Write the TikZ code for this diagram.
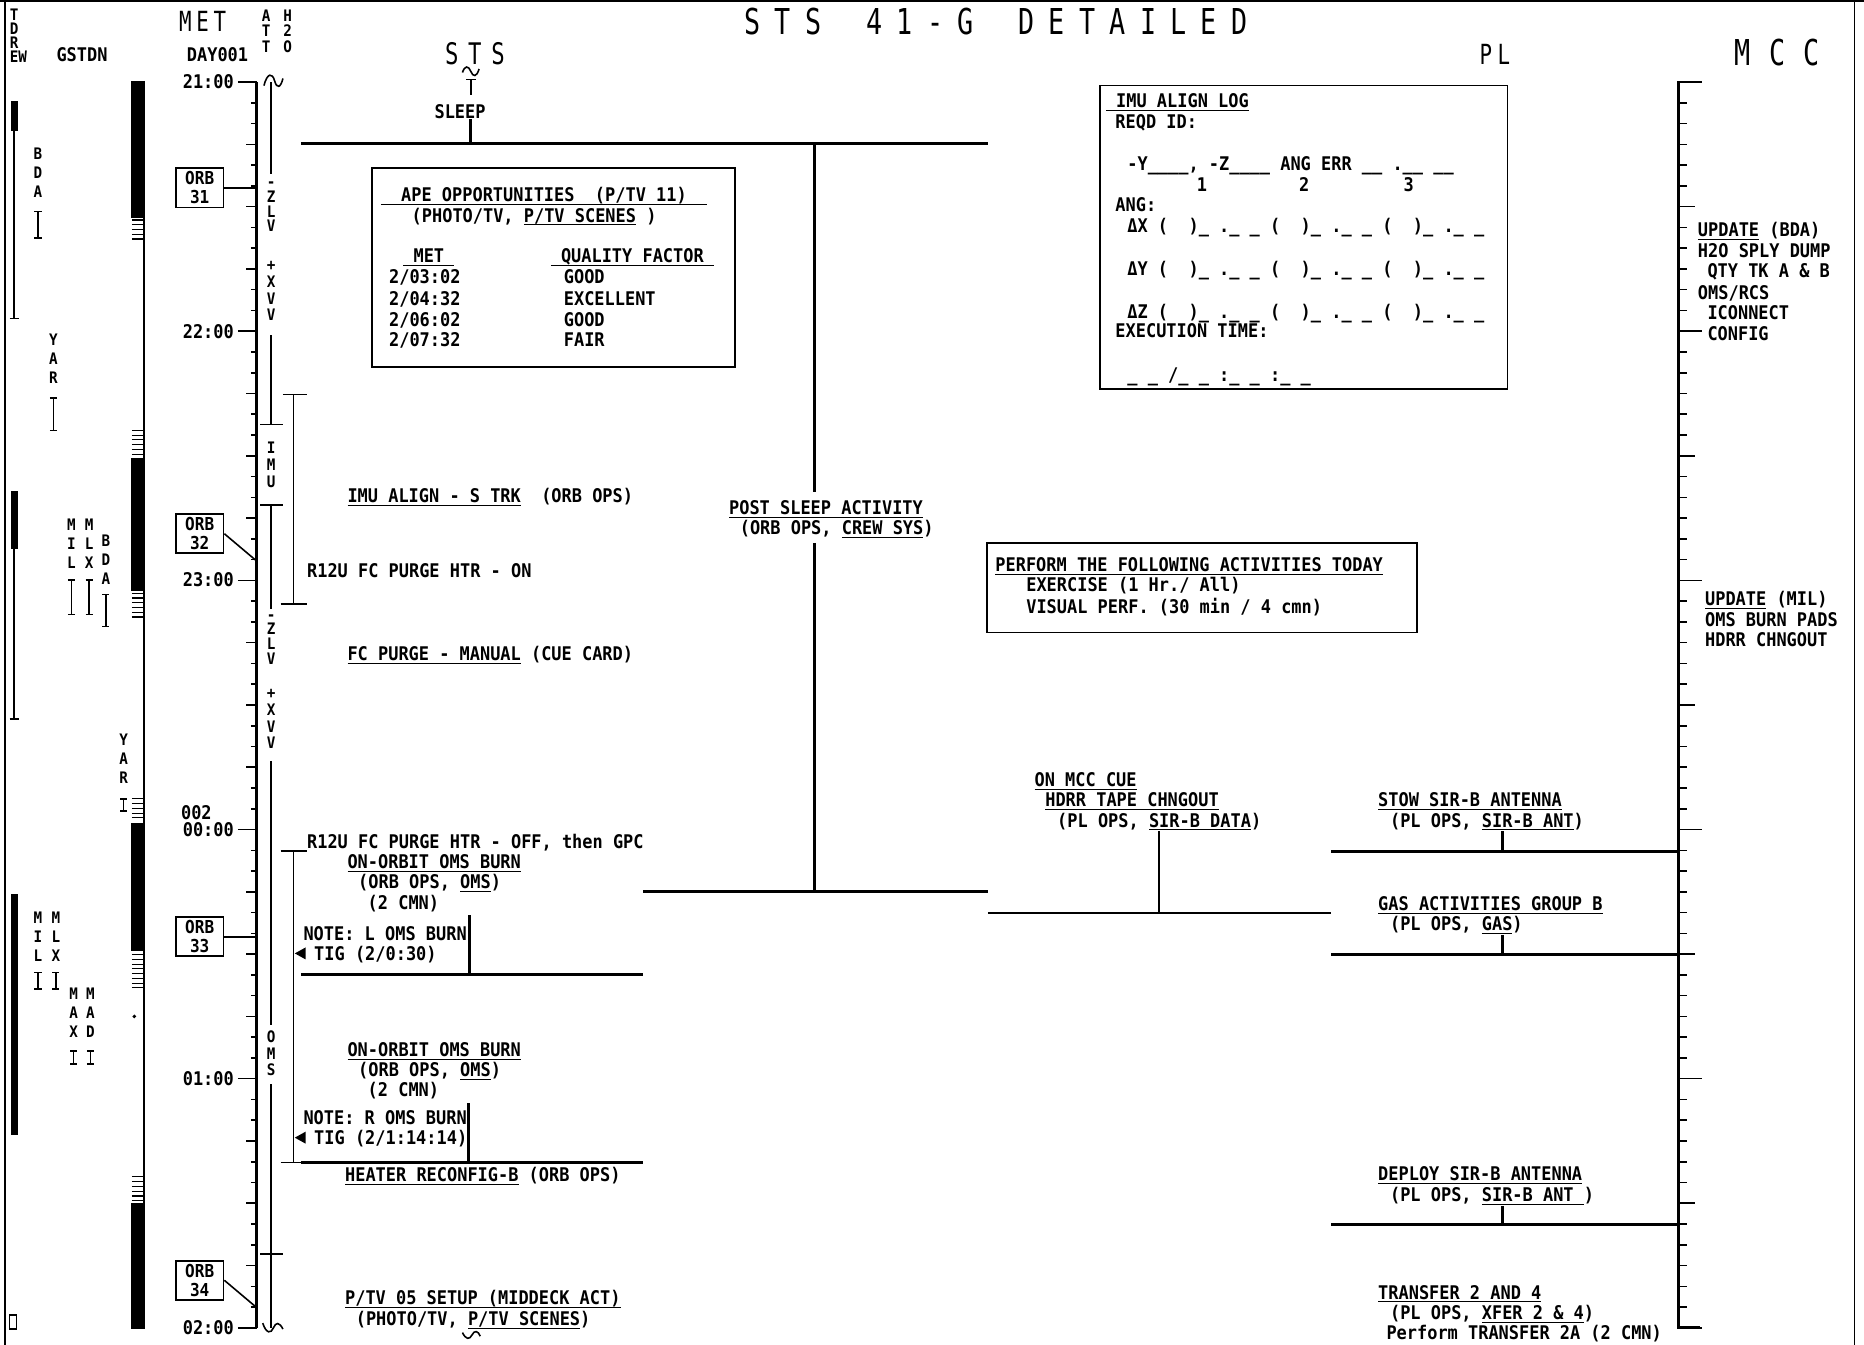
\documentclass[tikz,border=0pt]{standalone}
\usepackage{fontspec}
\setmainfont{DejaVu Sans Mono}[FakeStretch=0.9]
\newfontfamily\hdrfont{DejaVu Sans Mono}[FakeStretch=0.75]
\usetikzlibrary{positioning}
\newcommand{\sm}{\fontsize{9.5}{10}\selectfont\bfseries}
\newcommand{\undr}[1]{\underline{\smash{#1}}}

\begin{document}
\begin{tikzpicture}[x=0.6pt, y=-0.6pt, every node/.style={inner sep=0pt},
  tx/.style={anchor=west, text height=6.9pt, text depth=0pt, font=\sm},
  tc/.style={text height=6.9pt, text depth=0pt, font=\sm},
  hdr/.style={anchor=base, font=\hdrfont\fontsize{#1}{#1}\selectfont},
  vstk/.style={align=center, font=\fontsize{8}{#1}\selectfont\bfseries},
  orbbox/.style={draw, line width=0.9pt, align=center, minimum width=24pt, minimum height=19.8pt, font=\fontsize{9}{9.6}\selectfont\bfseries},
  bar/.style={line width=1.4pt},
  thinln/.style={line width=0.8pt},
  frm/.style={line width=0.9pt}]
\useasboundingbox (0,0) rectangle (1568,1131);
\fill[white] (0,0) rectangle (1568,1131);
% frame
\draw[thinln] (0,1) -- (1568,1);
\draw[thinln] (4,0) -- (4,1131);
\draw[thinln] (1560,0) -- (1560,1131);

% headers
\node[vstk=7.2pt] (tdre) at (12,30) {T\\D\\R\\E};
\node[font=\fontsize{8}{8}\selectfont\bfseries] (tdrw) at (19,48) {W};
\node[tc] (gstdn) at (69,46) {GSTDN};
\foreach \c [count=\i from 0] in {M,E,T}
  \node[hdr=14] (met\i) at ({156+14.5*\i},26.5) {\c};
\node[tc] (day) at (183,46) {DAY001};
\node[vstk=7.8pt] (att) at (224,26) {A\\T\\T};
\node[vstk=7.8pt] (h2o) at (242,26) {H\\2\\O};
\foreach \c [count=\i from 0] in {S,T,S}
  \node[hdr=15] (sts\i) at ({380+19.5*\i},54) {\c};
\foreach \c [count=\i from 0] in {S,T,S,{},4,1,-,G,{},D,E,T,A,I,L,E,D}
  \node[hdr=18] (ttl\i) at ({633+25.6*\i},29) {\c};
\foreach \c [count=\i from 0] in {P,L}
  \node[hdr=14] (pl\i) at ({1250+15*\i},54.5) {\c};
\foreach \c [count=\i from 0] in {M,C,C}
  \node[hdr=18] (mcc\i) at ({1466+29*\i},55) {\c};

% TDRE and ground station coverage
\fill (9,85) rectangle (15,110);
\draw[thinln] (12,110) -- (12,268) (8,268) -- (16,268);
\fill (9,413) rectangle (15,462);
\draw[thinln] (12,462) -- (12,605) (8,605) -- (16,605);
\fill (9,752) rectangle (15,955);
\draw[thinln] (8,1106) rectangle (14,1118);
\node[vstk=9.6pt] (bda1) at (32,145) {B\\D\\A};
\node[vstk=9.6pt] (yar1) at (45,302) {Y\\A\\R};
\node[vstk=9.6pt] (mil1) at (60,457) {M\\I\\L};
\node[vstk=9.6pt] (mlx1) at (75,457) {M\\L\\X};
\node[vstk=9.6pt] (bda2) at (89,471) {B\\D\\A};
\node[vstk=9.6pt] (yar2) at (104,638) {Y\\A\\R};
\node[vstk=9.6pt] (mil2) at (32,788) {M\\I\\L};
\node[vstk=9.6pt] (mlx2) at (47,788) {M\\L\\X};
\node[vstk=9.6pt] (max) at (62,852) {M\\A\\X};
\node[vstk=9.6pt] (mad) at (76,852) {M\\A\\D};
\foreach \x/\a/\b in {32/178/200,45/335/362,60/488/517,75/488/517,89/500/527,104/672/682,32/818/832,47/818/832,62/884/895,76/884/895}{
  \draw[thinln] (\x,\a) -- (\x,\b);
  \draw[thinln] (\x-3,\a) -- (\x+3,\a) (\x-3,\b) -- (\x+3,\b);
}
\foreach \a/\b in {68/183,385/497,692/800,1012/1118}
  \fill (110,\a) rectangle (122,\b);
\draw[thinln] (121,68) -- (121,1118);
\foreach \a/\n in {185/4,362/5,499/5,672/4,803/7,990/5}
  \foreach \k in {0,...,\n}
    \draw[line width=0.6pt] (111,\a+4*\k) -- (121,\a+4*\k);
\fill (113,855) circle[radius=1pt];

% time axes
\draw[bar] (216,69) -- (216,1117);
\draw[bar] (1430,69) -- (1412,69) -- (1412,1117) -- (1430,1117);
\foreach \m in {0,5,...,300}{
  \pgfmathsetmacro{\ty}{69+3.4933*\m}
  \pgfmathsetmacro{\tkl}{ifthenelse(mod(\m,60)==0,16,ifthenelse(mod(\m,15)==0,9,5))}
  \pgfmathsetmacro{\tkr}{ifthenelse(mod(\m,60)==0,20,ifthenelse(mod(\m,30)==0,14,7))}
  \draw[thinln] (216-\tkl,\ty) -- (216,\ty);
  \draw[thinln] (1412,\ty) -- (1412+\tkr,\ty);
}
\node[tc, anchor=east] (t21) at (197,69) {21:00};
\node[tc, anchor=east] (t22) at (197,279) {22:00};
\node[tc, anchor=east] (t23) at (197,488) {23:00};
\node[tc, anchor=west] (tday) at (152,684) {002};
\node[tc, anchor=east] (t00) at (197,698) {00:00};
\node[tc, anchor=east] (t01) at (197,907) {01:00};
\node[tc, anchor=east] (t02) at (197,1117) {02:00};

% orbit boxes
\node[orbbox] (orb31) at (168,158) {ORB\\31};
\node[orbbox] (orb32) at (168,449) {ORB\\32};
\node[orbbox] (orb33) at (168,788) {ORB\\33};
\node[orbbox] (orb34) at (168,1077) {ORB\\34};
\draw[thinln] (orb31.east) -- (216,158);
\draw[thinln] (orb32.east) -- (216,472);
\draw[thinln] (orb33.east) -- (216,788);
\draw[thinln] (orb34.east) -- (216,1100);

% attitude column
\draw[thinln] (222,72) .. controls (225,61) and (229,61) .. (231,68) .. controls (233,75) and (236,74) .. (238,66);
\draw[thinln] (228,69) -- (228,146);
\node[vstk=7.5pt] (zlv1) at (228,174) {-\\Z\\L\\V};
\node[vstk=8.4pt] (xvv1) at (228,245) {+\\X\\V\\V};
\draw[thinln] (228,282) -- (228,357) (219,357) -- (238,357);
\node[vstk=8.4pt] (attimu) at (228,391) {I\\M\\U};
\draw[thinln] (219,425) -- (238,425) (228,425) -- (228,512);
\node[vstk=7.5pt] (zlv2) at (228,538) {-\\Z\\L\\V};
\node[vstk=8.4pt] (xvv2) at (228,605) {+\\X\\V\\V};
\draw[thinln] (228,640) -- (228,862);
\node[vstk=8.4pt] (attoms) at (228,886) {O\\M\\S};
\draw[thinln] (228,912) -- (228,1117) (219,1055) -- (238,1055);
\draw[thinln] (221,1113) .. controls (224,1122) and (228,1122) .. (230,1117) .. controls (232,1112) and (235,1112) .. (238,1118);

% H2O column
\draw[thinln] (247,332) -- (247,508) (238,332) -- (258,332) (236,508) -- (258,508);
\draw[thinln] (247,716) -- (247,978) (236,716) -- (258,716) (236,978) -- (253,978);
\fill (248,802) -- (257,797) -- (257,807) -- cycle;
\fill (248,957) -- (257,952) -- (257,962) -- cycle;

% STS column
\draw[thinln] (389,61) .. controls (391,55) and (394,55) .. (396,60) .. controls (398,65) and (401,65) .. (403,58);
\draw[thinln] (392,67) -- (400,67) (396,67) -- (396,80);
\node[tc] (sleep) at (387,94) {SLEEP};
\coordinate (sleepx) at (396,121);
\draw[bar] (sleep.south -| sleepx) -- (sleepx);
\draw[bar] (253,121) -- (831,121);

\draw[frm] (313,141) rectangle (618,309);
\node[tx] (ape1) at (320,164) {\undr{~~APE OPPORTUNITIES~~(P/TV 11)~~}};
\node[tx] (ape2) at (346,181) {(PHOTO/TV, \undr{P/TV SCENES} )};
\node[tx] (ape3) at (339,215) {\undr{~MET~}};
\node[tx] (ape4) at (463,215) {\undr{~QUALITY FACTOR~}};
\node[tx] (met1) at (327,233) {2/03:02};
\node[tx] (met2) at (327,251) {2/04:32};
\node[tx] (met3) at (327,269) {2/06:02};
\node[tx] (met4) at (327,286) {2/07:32};
\node[tx] (qf1) at (474,233) {GOOD};
\node[tx] (qf2) at (474,251) {EXCELLENT};
\node[tx] (qf3) at (474,269) {GOOD};
\node[tx] (qf4) at (474,286) {FAIR};

\node[tx] (imual) at (292,417) {\undr{IMU ALIGN - S TRK}~~(ORB OPS)};
\node[tx] (purgeon) at (258,480) {R12U FC PURGE HTR - ON};
\node[tx] (fcpurge) at (292,550) {\undr{FC PURGE - MANUAL} (CUE CARD)};
\node[tx] (purgeoff) at (258,708) {R12U FC PURGE HTR - OFF, then GPC};
\node[tx] (burna) at (292,725) {\undr{ON-ORBIT OMS BURN}};
\node[tx] (burnab) at (301,742) {(ORB OPS, \undr{OMS})};
\node[tx] (burnac) at (309,759) {(2 CMN)};
\node[tx] (notea) at (255,785) {NOTE: L OMS BURN};
\node[tx] (tiga) at (264,802) {TIG (2/0:30)};
\node[tx] (burnb) at (292,883) {\undr{ON-ORBIT OMS BURN}};
\node[tx] (burnbb) at (301,900) {(ORB OPS, \undr{OMS})};
\node[tx] (burnbc) at (309,917) {(2 CMN)};
\node[tx] (noteb) at (255,940) {NOTE: R OMS BURN};
\node[tx] (tigb) at (264,957) {TIG (2/1:14:14)};
\node[tx] (heater) at (290,988) {\undr{HEATER RECONFIG-B} (ORB OPS)};
\node[tx] (ptva) at (290,1092) {\undr{P/TV 05 SETUP (MIDDECK ACT)}};
\node[tx] (ptvb) at (299,1109) {(PHOTO/TV, \undr{P/TV SCENES})};
\draw[thinln] (389,1121) .. controls (392,1127) and (395,1127) .. (397,1123) .. controls (399,1119) and (402,1119) .. (404,1124);

\draw[bar] (395,770) -- (395,820);
\draw[bar] (253,820) -- (541,820);
\draw[bar] (394,928) -- (394,978);
\draw[bar] (253,978) -- (541,978);

\node[tx] (psaa) at (613,427) {\undr{POST SLEEP ACTIVITY}};
\node[tx] (psab) at (622,444) {(ORB OPS, \undr{CREW SYS})};
\coordinate (psatop) at (685,121);
\coordinate (psabot) at (685,750);
\draw[bar] (psatop) -- ([yshift=4pt]psatop |- psaa.north);
\draw[bar] ([yshift=-4pt]psab.south -| psabot) -- (psabot);
\draw[bar] (541,750) -- (831,750);

% payload column
\draw[frm] (925,72) rectangle (1268,327);
\node[tx] (imua) at (930,85) {\undr{~IMU ALIGN LOG}};
\node[tx] (imub) at (938,102) {REQD ID:};
\node[tx] (imuc) at (948,138) {-Y\_\_\_\_, -Z\_\_\_\_ ANG ERR \_\_ .\_\_ \_\_};
\node[tc] (sub1) at (1011,155) {1};
\node[tc] (sub2) at (1097,155) {2};
\node[tc] (sub3) at (1185,155) {3};
\node[tx] (imud) at (938,172) {ANG:};
\node[tx] (dx) at (948,190) {ΔX~(~~)\_~.\_~\_~(~~)\_~.\_~\_~(~~)\_~.\_~\_};
\node[tx] (dy) at (948,226) {ΔY~(~~)\_~.\_~\_~(~~)\_~.\_~\_~(~~)\_~.\_~\_};
\node[tx] (dz) at (948,262) {ΔZ~(~~)\_~.\_~\_~(~~)\_~.\_~\_~(~~)\_~.\_~\_};
\node[tx] (exec) at (938,278) {EXECUTION TIME:};
\node[tx] (exect) at (948,315) {\_~\_~/\_~\_~:\_~\_~:\_~\_};

\draw[frm] (830,457) rectangle (1192,532);
\node[tx] (perfa) at (837,475) {\undr{PERFORM THE FOLLOWING ACTIVITIES TODAY}};
\node[tx] (perfb) at (863,492) {EXERCISE (1 Hr./ All)};
\node[tx] (perfc) at (863,510) {VISUAL PERF. (30 min / 4 cmn)};

\node[tx] (cuea) at (870,656) {\undr{ON MCC CUE}};
\node[tx] (cueb) at (879,673) {\undr{HDRR TAPE CHNGOUT}};
\node[tx] (cuec) at (889,690) {(PL OPS, \undr{SIR-B DATA})};
\coordinate (cuex) at (975,768);
\draw[bar] ([yshift=-2pt]cuec.south -| cuex) -- (cuex);
\draw[bar] (831,768) -- (1120,768);

\node[tx] (stowa) at (1159,673) {\undr{STOW SIR-B ANTENNA}};
\node[tx] (stowb) at (1169,690) {(PL OPS, \undr{SIR-B ANT})};
\coordinate (stowx) at (1264,716);
\draw[bar] ([yshift=-2pt]stowb.south -| stowx) -- (stowx);
\draw[bar] (1120,716) -- (1412,716);
\node[tx] (gasa) at (1159,760) {\undr{GAS ACTIVITIES GROUP B}};
\node[tx] (gasb) at (1169,777) {(PL OPS, \undr{GAS})};
\coordinate (gasx) at (1264,803);
\draw[bar] ([yshift=-2pt]gasb.south -| gasx) -- (gasx);
\draw[bar] (1120,803) -- (1412,803);
\node[tx] (depa) at (1159,987) {\undr{DEPLOY SIR-B ANTENNA}};
\node[tx] (depb) at (1169,1005) {(PL OPS, \undr{SIR-B ANT~})};
\coordinate (depx) at (1264,1030);
\draw[bar] ([yshift=-2pt]depb.south -| depx) -- (depx);
\draw[bar] (1120,1030) -- (1412,1030);
\node[tx] (xfera) at (1159,1087) {\undr{TRANSFER 2 AND 4}};
\node[tx] (xferb) at (1169,1104) {(PL OPS, \undr{XFER 2 \& 4})};
\node[tx] (xferc) at (1166,1121) {Perform TRANSFER 2A (2 CMN)};

% MCC column
\node[tx] (upda) at (1428,193) {\undr{UPDATE} (BDA)};
\node[tx] (h2oa) at (1428,211) {H2O SPLY DUMP};
\node[tx] (h2ob) at (1436,228) {QTY TK A \& B};
\node[tx] (omsrcs) at (1428,246) {OMS/RCS};
\node[tx] (icon) at (1436,263) {ICONNECT};
\node[tx] (config) at (1436,281) {CONFIG};
\node[tx] (updb) at (1434,504) {\undr{UPDATE} (MIL)};
\node[tx] (pads) at (1434,521) {OMS BURN PADS};
\node[tx] (hdrr) at (1434,538) {HDRR CHNGOUT};
\end{tikzpicture}
\end{document}
